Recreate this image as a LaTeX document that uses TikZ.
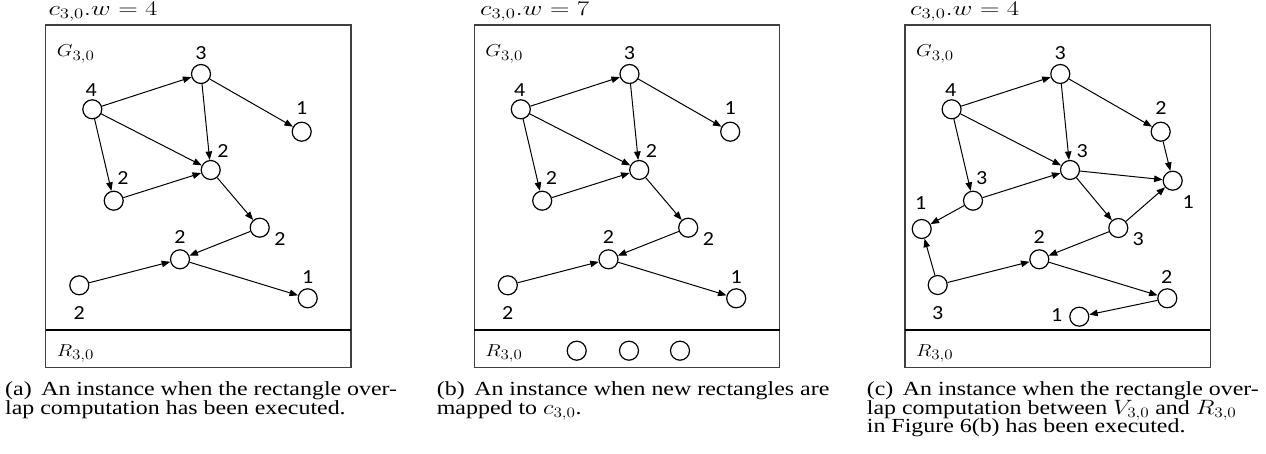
\documentclass[tikz,border=0pt]{standalone}
\usepackage{fontspec}
\setmainfont{Liberation Serif}
\newfontfamily\lblfont{Carlito}
\usetikzlibrary{arrows.meta}
\newcommand{\sx}[1]{\scalebox{1.18}[1]{#1}}
\newcommand{\sxc}[1]{\scalebox{1.195}[1]{#1}}
\newcommand{\sxd}[1]{\scalebox{1.1}[1]{#1}}
\newcommand{\sxt}[1]{\scalebox{1.3}[1]{#1}}
\newcommand{\panelgraph}[1]{%
  \node[vtx] (#1v4) at (92.3,109.3) {};
  \node[vtx] (#1v3) at (201,74) {};
  \node[vtx] (#1v1t) at (301.7,131.7) {};
  \node[vtx] (#1v2m) at (210.7,170) {};
  \node[vtx] (#1v2l) at (113.7,200.7) {};
  \node[vtx] (#1v2r) at (259.7,227.7) {};
  \node[vtx] (#1v2c) at (180,259.3) {};
  \node[vtx] (#1v2bl) at (79.3,285.3) {};
  \node[vtx] (#1v1br) at (307.7,298.3) {};
  \node[lbl] (#1l4) at (91.3,89.7) {\sxd{4}};
  \node[lbl] (#1l3) at (201,53) {\sxd{3}};
  \node[lbl] (#1l1t) at (301.7,108.5) {\sxd{1}};
  \node[lbl] (#1l2m) at (223,150.7) {\sxd{2}};
  \node[lbl] (#1l2l) at (123,178) {\sxd{2}};
  \node[lbl] (#1l2r) at (280,239) {\sxd{2}};
  \node[lbl] (#1l2c) at (180,237) {\sxd{2}};
  \node[lbl] (#1l2bl) at (79.3,312.7) {\sxd{2}};
  \node[lbl] (#1l1br) at (307.7,276.7) {\sxd{1}};
  \draw[conn] (#1v4) -- (#1v3);
  \draw[conn] (#1v3) -- (#1v1t);
  \draw[conn] (#1v4) -- (#1v2m);
  \draw[conn] (#1v3) -- (#1v2m);
  \draw[conn] (#1v4) -- (#1v2l);
  \draw[conn] (#1v2l) -- (#1v2m);
  \draw[conn] (#1v2m) -- (#1v2r);
  \draw[conn] (#1v2r) -- (#1v2c);
  \draw[conn] (#1v2bl) -- (#1v2c);
  \draw[conn] (#1v2c) -- (#1v1br);
}
\newcommand{\panelframe}[3]{%
  \draw[panelbox] (45.7,25) rectangle (351,367.7);
  \draw[divline] (45.7,330) -- (351,330);
  \node[ttltxt] (#1title) at (#3,15.7) {\sxt{$c_{3,0}.w=#2$}};
  \node[mlbl] (#1G) at (56.7,56.7) {\sx{$G_{3,0}$}};
  \node[mlbl] (#1R) at (56.7,356) {\sx{$R_{3,0}$}};
}
\tikzset{
  vtx/.style={circle, draw=black, line width=1.2pt, minimum size=19pt, inner sep=0pt, fill=white},
  lbl/.style={inner sep=0pt, font=\lblfont\fontsize{20}{20}\selectfont},
  conn/.style={draw, line width=1pt, -{Triangle[length=8.5pt,width=6.5pt]}},
  panelbox/.style={draw=black!75, line width=1.3pt},
  divline/.style={draw=black, line width=1.8pt},
  mlbl/.style={inner sep=0pt, anchor=base west, font=\fontsize{19}{22}\selectfont},
  ttltxt/.style={inner sep=0pt, anchor=base west, font=\fontsize{20}{24}\selectfont},
  captxt/.style={inner sep=0pt, anchor=base west, font=\fontsize{20}{18.5}\selectfont},
}
\begin{document}
\begin{tikzpicture}[x=1pt,y=-1pt]
\useasboundingbox (0,0) rectangle (1266,454);
% panel (a)
\begin{scope}
  \panelframe{a}{4}{48.3}
  \panelgraph{a}
\end{scope}
\node[captxt] (capa1) at (5,395.5) {\sxc{(a)\hspace{0.4em}An instance when the rectangle over-}};
\node[captxt] (capa2) at (5,414) {\sxc{lap computation has been executed.}};
% panel (b)
\begin{scope}[shift={(428.5,0)}]
  \panelframe{b}{7}{51.5}
  \panelgraph{b}
  \node[vtx] (br1) at (148.2,350.7) {};
  \node[vtx] (br2) at (200.5,350.7) {};
  \node[vtx] (br3) at (251.5,350.7) {};
\end{scope}
\node[captxt] (capb1) at (436.7,395.5) {\sxc{(b)\hspace{0.4em}An instance when new rectangles are}};
\node[captxt] (capb2) at (436.7,414) {\sxc{mapped to $c_{3,0}$.}};
% panel (c)
\begin{scope}[shift={(859.3,0)}]
  \panelframe{c}{4}{50.7}
  \node[vtx] (cv4) at (92.3,109.3) {};
  \node[vtx] (cv3) at (201,74) {};
  \node[vtx] (cv2u) at (301.4,131.7) {};
  \node[vtx] (cv3m) at (210.7,170) {};
  \node[vtx] (cv1r) at (313.4,180.7) {};
  \node[vtx] (cv3l) at (113.7,200.7) {};
  \node[vtx] (cv1l) at (62.4,229) {};
  \node[vtx] (cv3r) at (259,228) {};
  \node[vtx] (cv2c) at (180,259.3) {};
  \node[vtx] (cv3b) at (78.4,285) {};
  \node[vtx] (cv2br) at (308,298.3) {};
  \node[vtx] (cv1b) at (220,316.7) {};
  \node[lbl] (cl4) at (91.3,89.7) {\sxd{4}};
  \node[lbl] (cl3) at (201,53) {\sxd{3}};
  \node[lbl] (cl2u) at (301.7,108.5) {\sxd{2}};
  \node[lbl] (cl3m) at (223,150.7) {\sxd{3}};
  \node[lbl] (cl1r) at (329,201.7) {\sxd{1}};
  \node[lbl] (cl3l) at (122.4,178.3) {\sxd{3}};
  \node[lbl] (cl1l) at (61.4,203.3) {\sxd{1}};
  \node[lbl] (cl3r) at (279,239.3) {\sxd{3}};
  \node[lbl] (cl2c) at (180,237) {\sxd{2}};
  \node[lbl] (cl3b) at (78.4,312.7) {\sxd{3}};
  \node[lbl] (cl2br) at (307.4,276.7) {\sxd{2}};
  \node[lbl] (cl1b) at (197.4,315) {\sxd{1}};
  \draw[conn] (cv4) -- (cv3);
  \draw[conn] (cv3) -- (cv2u);
  \draw[conn] (cv4) -- (cv3m);
  \draw[conn] (cv3) -- (cv3m);
  \draw[conn] (cv4) -- (cv3l);
  \draw[conn] (cv3l) -- (cv3m);
  \draw[conn] (cv3m) -- (cv1r);
  \draw[conn] (cv2u) -- (cv1r);
  \draw[conn] (cv3m) -- (cv3r);
  \draw[conn] (cv3r) -- (cv1r);
  \draw[conn] (cv3r) -- (cv2c);
  \draw[conn] (cv3l) -- (cv1l);
  \draw[conn] (cv3b) -- (cv1l);
  \draw[conn] (cv3b) -- (cv2c);
  \draw[conn] (cv2c) -- (cv2br);
  \draw[conn] (cv2br) -- (cv1b);
\end{scope}
\node[captxt] (capc1) at (866.7,395.5) {\sxc{(c)\hspace{0.4em}An instance when the rectangle over-}};
\node[captxt] (capc2) at (866.7,414) {\sxc{lap computation between $V_{3,0}$ and $R_{3,0}$}};
\node[captxt] (capc3) at (866.7,432.5) {\sxc{in Figure 6(b) has been executed.}};
\end{tikzpicture}
\end{document}
